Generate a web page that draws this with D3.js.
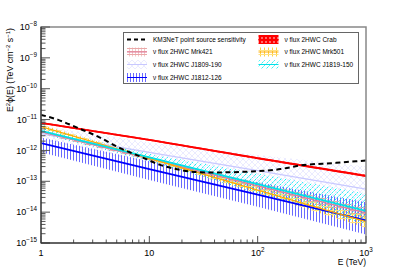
<!DOCTYPE html>
<html>
<head>
<meta charset="utf-8">
<script src="https://cdn.jsdelivr.net/npm/d3@7"></script>
<style>
  body { margin: 0; background: #fff; }
  svg { display: block; font-family: "Liberation Sans", Arial, sans-serif; }
</style>
</head>
<body>
<svg id="chart" width="407" height="271"></svg>
<script>
// energies (TeV) at which the 2HWC neutrino bands were read
const energies = [1, 10, 100, 1000];

const crabMid = [7.8e-12, 2.2e-12, 5.6e-13, 1.5e-13];
const crabLo = [7.3e-12, 2.05e-12, 5.2e-13, 1.38e-13];
const crabHi = [8.3e-12, 2.35e-12, 6.0e-13, 1.62e-13];

const mrk421Mid = [4.0e-12, 5.4e-13, 7.1e-14, 9.5e-15];
const mrk421Lo = [3.5e-12, 4.8e-13, 5.6e-14, 6.3e-15];
const mrk421Hi = [4.6e-12, 6.0e-13, 9.0e-14, 1.4e-14];

const mrk501Mid = [5.9e-12, 5.5e-13, 5.2e-14, 4.9e-15];
const mrk501Lo = [5.0e-12, 4.9e-13, 4.1e-14, 3.1e-15];
const mrk501Hi = [6.9e-12, 6.2e-13, 6.6e-14, 7.8e-15];

const j1809Mid = [3.5e-12, 8.7e-13, 2.2e-13, 5.6e-14];
const j1809Lo = [2.0e-12, 4.0e-13, 6.3e-14, 1.8e-14];
const j1809Hi = [6.3e-12, 1.8e-12, 7.1e-13, 3.0e-13];

const j1819Mid = [4.3e-12, 5.9e-13, 8.1e-14, 1.1e-14];
const j1819Lo = [3.4e-12, 4.5e-13, 4.1e-14, 4.0e-15];
const j1819Hi = [5.4e-12, 7.8e-13, 1.8e-13, 4.0e-14];

const j1812Mid = [1.74e-12, 2.5e-13, 3.7e-14, 5.4e-15];
const j1812Lo = [8.7e-13, 1.1e-13, 1.5e-14, 1.9e-15];
const j1812Hi = [2.6e-12, 4.5e-13, 9.3e-14, 2.1e-14];

// KM3NeT point source sensitivity curve
const km3Energy = [1, 1.44, 2.2, 3.36, 5.36, 8.2, 12.6, 19.2, 23.8, 36.3, 85, 162, 246, 500, 1000];
const km3Flux = [1.42e-11, 9.8e-12, 5.3e-12, 2.8e-12, 1.19e-12, 6.4e-13, 3.4e-13, 2.35e-13,
  2.07e-13, 1.93e-13, 2.07e-13, 2.48e-13, 3.24e-13, 3.9e-13, 4.7e-13];

const xTickValues = [1, 10, 100, 1000];
const xTickExp = ['', '', '2', '3'];
const yTickExp = [-15, -14, -13, -12, -11, -10, -9, -8];

const svg = d3.select('#chart');
const frameL = 41, frameR = 366, frameT = 27, frameB = 243;

const x = d3.scaleLog().domain([1, 1000]).range([frameL, frameR]);
const y = d3.scaleLog().domain([1e-15, 1e-8]).range([frameB, frameT]);

const defs = svg.append('defs');
defs.append('clipPath').attr('id', 'frame')
  .append('rect').attr('x', frameL).attr('y', frameT)
  .attr('width', frameR - frameL).attr('height', frameB - frameT);

// hatch patterns, ROOT-ish
function pattern(id, w, h, draw) {
  const p = defs.append('pattern').attr('id', id)
    .attr('patternUnits', 'userSpaceOnUse').attr('width', w).attr('height', h);
  draw(p);
}
pattern('pCrab', 4, 4, p => {
  p.append('rect').attr('width', 4).attr('height', 4).attr('fill', '#ff0000');
  p.append('rect').attr('x', 1).attr('y', 1).attr('width', 2).attr('height', 2).attr('fill', '#ff6a6a');
});
pattern('pMrk421', 3, 3, p => {
  p.append('rect').attr('width', 3).attr('height', 1).attr('fill', '#eaa8a8');
  p.append('rect').attr('y', 1).attr('width', 1).attr('height', 2).attr('fill', '#f2c8c8');
});
pattern('pMrk501', 4, 4, p => {
  p.append('rect').attr('width', 1).attr('height', 4).attr('fill', '#ffd040');
  p.append('rect').attr('y', 2).attr('width', 4).attr('height', 1).attr('fill', '#ffe080');
});
pattern('pJ1809', 6, 6, p => {
  p.append('path').attr('d', 'M0,0L6,6M6,0L0,6').attr('stroke', '#d6d6ff').attr('stroke-width', 0.5);
});
pattern('pJ1819', 5, 5, p => {
  p.append('path').attr('d', 'M0,5L5,0M-1,1L1,-1M4,6L6,4').attr('stroke', '#00f0f0')
    .attr('stroke-width', 0.9).attr('stroke-dasharray', '2,1');
});
pattern('pJ1812', 3, 3, p => {
  p.append('rect').attr('x', 1).attr('width', 1).attr('height', 3).attr('fill', '#6a6aff');
});

const sources = [
  {name: 'J1809-190', mid: j1809Mid, lo: j1809Lo, hi: j1809Hi, fill: 'url(#pJ1809)', color: '#c8c8ff', width: 1.3},
  {name: 'J1812-126', mid: j1812Mid, lo: j1812Lo, hi: j1812Hi, fill: 'url(#pJ1812)', color: '#0000ff', width: 1.8},
  {name: 'Mrk421', mid: mrk421Mid, lo: mrk421Lo, hi: mrk421Hi, fill: 'url(#pMrk421)', color: '#e07b9b', width: 1.3},
  {name: 'Mrk501', mid: mrk501Mid, lo: mrk501Lo, hi: mrk501Hi, fill: 'url(#pMrk501)', color: '#ffaa00', width: 1.3},
  {name: 'J1819-150', mid: j1819Mid, lo: j1819Lo, hi: j1819Hi, fill: 'url(#pJ1819)', color: '#00e0e8', width: 1.8},
  {name: 'Crab', mid: crabMid, lo: crabLo, hi: crabHi, fill: 'url(#pCrab)', color: '#ff0000', width: 1.8}
];

const plot = svg.append('g').attr('clip-path', 'url(#frame)');

const area = d3.area()
  .x((d, i) => x(energies[i]))
  .y0(d => y(d[0]))
  .y1(d => y(d[1]));
const line = d3.line()
  .x((d, i) => x(energies[i]))
  .y(d => y(d));

sources.forEach(s => {
  plot.append('path')
    .datum(s.lo.map((v, i) => [v, s.hi[i]]))
    .attr('d', area)
    .attr('fill', s.fill);
});
sources.forEach(s => {
  plot.append('path')
    .datum(s.mid)
    .attr('d', line)
    .attr('fill', 'none')
    .attr('stroke', s.color)
    .attr('stroke-width', s.width);
});

const km3Line = d3.line()
  .x((d, i) => x(km3Energy[i]))
  .y(d => y(d))
  .curve(d3.curveMonotoneX);
plot.append('path')
  .datum(km3Flux)
  .attr('d', km3Line)
  .attr('fill', 'none')
  .attr('stroke', '#000')
  .attr('stroke-width', 2)
  .attr('stroke-dasharray', '5,3.5');

// frame
svg.append('rect')
  .attr('x', frameL).attr('y', frameT)
  .attr('width', frameR - frameL).attr('height', frameB - frameT)
  .attr('fill', 'none').attr('stroke', '#888').attr('stroke-width', 1.5);

// y axis ticks
const yAxis = svg.append('g');
yTickExp.forEach(e => {
  const v = Math.pow(10, e);
  yAxis.append('line').attr('x1', frameL).attr('x2', frameL + 9)
    .attr('y1', y(v)).attr('y2', y(v)).attr('stroke', '#555');
  if (e < -8) {
    for (let k = 2; k <= 9; k++) {
      const yy = y(k * v);
      yAxis.append('line').attr('x1', frameL).attr('x2', frameL + 4.5)
        .attr('y1', yy).attr('y2', yy).attr('stroke', '#555');
    }
  }
  const t = yAxis.append('text')
    .attr('x', frameL - 4).attr('y', y(v) + 3.2)
    .attr('text-anchor', 'end').attr('font-size', 9).attr('fill', '#000');
  t.append('tspan').text('10');
  t.append('tspan').attr('dy', -4).attr('font-size', 6.3).text('\u2212' + (-e));
});
yAxis.append('line').attr('x1', frameL).attr('x2', frameL).attr('y1', frameT).attr('y2', frameB)
  .attr('stroke', '#222');

// x axis ticks
const xAxis = svg.append('g');
xTickValues.forEach((v, i) => {
  xAxis.append('line').attr('x1', x(v)).attr('x2', x(v))
    .attr('y1', frameB).attr('y2', frameB - 7).attr('stroke', '#555');
  if (v < 1000) {
    for (let k = 2; k <= 9; k++) {
      xAxis.append('line').attr('x1', x(k * v)).attr('x2', x(k * v))
        .attr('y1', frameB).attr('y2', frameB - 3.5).attr('stroke', '#555');
    }
  }
  const t = xAxis.append('text')
    .attr('x', x(v)).attr('y', 256)
    .attr('text-anchor', 'middle').attr('font-size', 9);
  t.append('tspan').text(v === 1 ? '1' : '10');
  if (xTickExp[i]) t.append('tspan').attr('dy', -4).attr('font-size', 6.3).text(xTickExp[i]);
});
xAxis.append('line').attr('x1', frameL).attr('x2', frameR).attr('y1', frameB).attr('y2', frameB)
  .attr('stroke', '#222');

svg.append('text').attr('x', frameR).attr('y', 265)
  .attr('text-anchor', 'end').attr('font-size', 8.5).text('E (TeV)');

// y title
const yt = svg.append('text')
  .attr('transform', `translate(13,${frameT + 1}) rotate(-90)`)
  .attr('text-anchor', 'end').attr('font-size', 8.8);
yt.append('tspan').text('E');
yt.append('tspan').attr('dy', -3.5).attr('font-size', 6).text('2');
yt.append('tspan').attr('dy', 3.5).text('\u03d5(E) (TeV cm');
yt.append('tspan').attr('dy', -3.5).attr('font-size', 6).text('\u22122');
yt.append('tspan').attr('dy', 3.5).text(' s');
yt.append('tspan').attr('dy', -3.5).attr('font-size', 6).text('\u22121');
yt.append('tspan').attr('dy', 3.5).text(')');

// legend
const legend = svg.append('g');
legend.append('rect').attr('x', 123.5).attr('y', 32.5).attr('width', 235).attr('height', 51)
  .attr('fill', '#fff').attr('stroke', '#666').attr('stroke-width', 1);

const legendItems = [
  {label: 'KM3NeT point source sensitivity', col: 0, row: 0, km3: true},
  {label: '\u03bd flux 2HWC Mrk421', col: 0, row: 1, src: 'Mrk421'},
  {label: '\u03bd flux 2HWC J1809-190', col: 0, row: 2, src: 'J1809-190'},
  {label: '\u03bd flux 2HWC J1812-126', col: 0, row: 3, src: 'J1812-126'},
  {label: '\u03bd flux 2HWC Crab', col: 1, row: 0, src: 'Crab'},
  {label: '\u03bd flux 2HWC Mrk501', col: 1, row: 1, src: 'Mrk501'},
  {label: '\u03bd flux 2HWC J1819-150', col: 1, row: 2, src: 'J1819-150'}
];
const colX = [127, 258.5];
const rowY = [39.5, 52, 64.5, 77.5];
legendItems.forEach(it => {
  const gx = colX[it.col], gy = rowY[it.row];
  if (it.km3) {
    legend.append('line').attr('x1', gx).attr('x2', gx + 20).attr('y1', gy).attr('y2', gy)
      .attr('stroke', '#000').attr('stroke-width', 2).attr('stroke-dasharray', '4,3');
  } else {
    const s = sources.find(d => d.name === it.src);
    legend.append('rect').attr('x', gx).attr('y', gy - 4.5).attr('width', 20).attr('height', 9)
      .attr('fill', s.fill);
    legend.append('line').attr('x1', gx).attr('x2', gx + 20).attr('y1', gy).attr('y2', gy)
      .attr('stroke', s.color).attr('stroke-width', 1);
  }
  legend.append('text').attr('x', gx + 26).attr('y', gy + 2.3)
    .attr('font-size', 6.5).text(it.label);
});
</script>
</body>
</html>
